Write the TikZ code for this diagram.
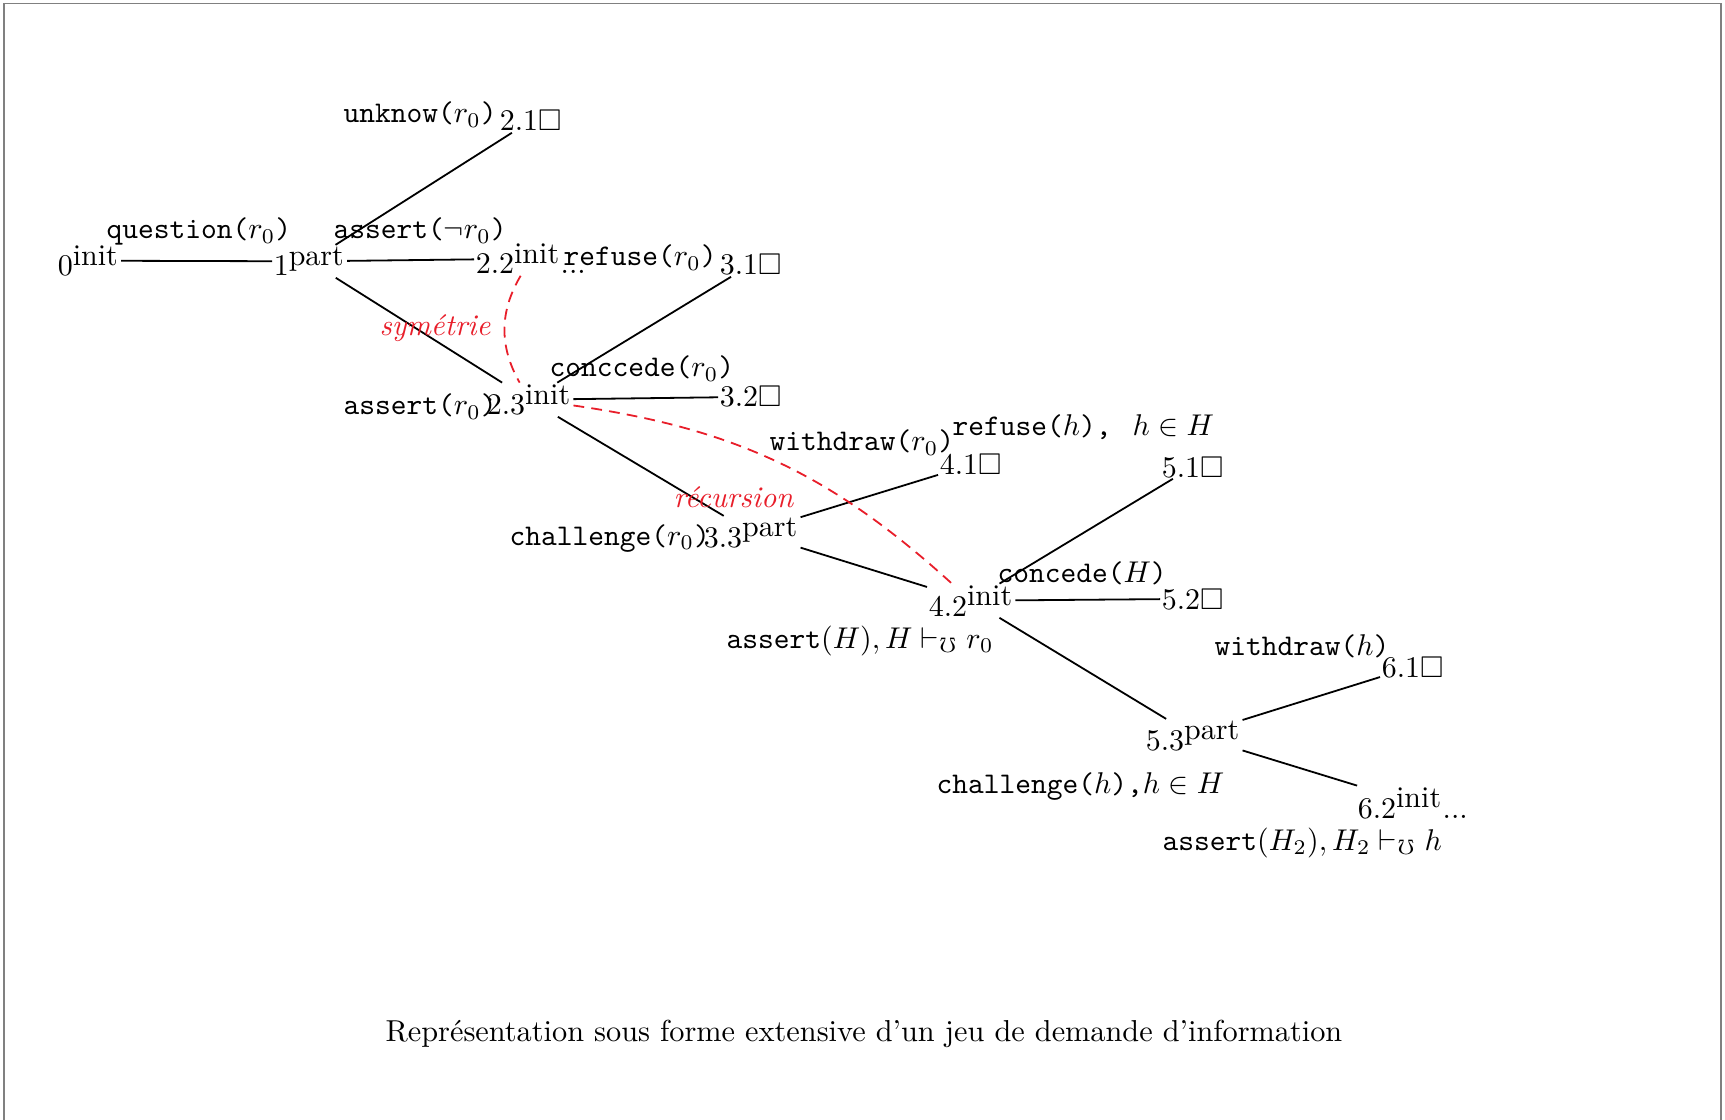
\documentclass[tikz,border=0pt]{standalone}
\usepackage{amssymb}
\definecolor{myred}{RGB}{232,30,42}
\begin{document}
\begin{tikzpicture}[x=0.33333pt,y=-0.33333pt,
  tn/.style={inner sep=0.4pt,anchor=base west},
  lb/.style={inner sep=0pt,anchor=base west},
  edge/.style={line width=0.6pt},
  rel/.style={draw=myred,dash pattern=on 3.6pt off 2.4pt,line width=0.6pt},
  rtxt/.style={inner sep=0pt,anchor=base west,text=myred,font=\itshape}]
\useasboundingbox (0,0) rectangle (1725,1120);
\draw[gray,line width=0.6pt] (4,1120) -- (4,3.5) -- (1721,3.5) -- (1721,1120);
% tree nodes
\node[tn] (n0)  at (56,276)   {$0^{\mbox{init}}$};
\node[tn] (n1)  at (272,276)  {$1^{\mbox{part}}$};
\node[tn] (n21) at (498,131)  {$2.1\square$};
\node[tn] (n22) at (474,274)  {$2.2^{\mbox{init}}$...};
\node[tn] (n23) at (485,415)  {$2.3^{\mbox{init}}$};
\node[tn] (n31) at (718,275)  {$3.1\square$};
\node[tn] (n32) at (718,407)  {$3.2\square$};
\node[tn] (n33) at (702,547)  {$3.3^{\mbox{part}}$};
\node[tn] (n41) at (938,475)  {$4.1\square$};
\node[tn] (n42) at (927,616)  {$4.2^{\mbox{init}}$};
\node[tn] (n51) at (1160,477) {$5.1\square$};
\node[tn] (n52) at (1160,609) {$5.2\square$};
\node[tn] (n53) at (1144,750) {$5.3^{\mbox{part}}$};
\node[tn] (n61) at (1380,677) {$6.1\square$};
\node[tn] (n62) at (1356,818) {$6.2^{\mbox{init}}$...};
% edges
\draw[edge] (n0) -- (n1);
\draw[edge] (n1) -- (n21);
\draw[edge] (n1) -- (n22);
\draw[edge] (n1) -- (n23);
\draw[edge] (n23) -- (n31);
\draw[edge] (n23) -- (n32);
\draw[edge] (n23) -- (n33);
\draw[edge] (n33) -- (n41);
\draw[edge] (n33) -- (n42);
\draw[edge] (n42) -- (n51);
\draw[edge] (n42) -- (n52);
\draw[edge] (n42) -- (n53);
\draw[edge] (n53) -- (n61);
\draw[edge] (n53) -- (n62);
% edge labels
\node[lb] (l01)  at (106,239)  {\texttt{question(}$r_0$\texttt{)}};
\node[lb] (l122) at (333,239)  {\texttt{assert(}$\neg r_0$\texttt{)}};
\node[lb] (l121) at (343,123)  {\texttt{unknow(}$r_0$\texttt{)}};
\node[lb] (l231) at (563,266)  {\texttt{refuse(}$r_0$\texttt{)}};
\node[lb] (l232) at (549,377)  {\texttt{conccede(}$r_0$\texttt{)}};
\node[lb] (l123) at (343,415)  {\texttt{assert(}$r_0$\texttt{)}};
\node[lb] (l233) at (509,545)  {\texttt{challenge(}$r_0$\texttt{)}};
\node[lb] (l341) at (769,451)  {\texttt{withdraw(}$r_0$\texttt{)}};
\node[lb] (l451) at (952,436)  {\texttt{refuse(}$h$\texttt{),}\hspace{7pt}$h\in H$};
\node[lb] (l342) at (726,648)  {\texttt{assert}$(H), H\vdash_{\mho} r_0$};
\node[lb] (l452) at (997,582)  {\texttt{concede(}$H$\texttt{)}};
\node[lb] (l561) at (1214,655) {\texttt{withdraw(}$h$\texttt{)}};
\node[lb] (l453) at (936,793)  {\texttt{challenge(}$h$\texttt{),}$h\in H$};
\node[lb] (l562) at (1162,850) {\texttt{assert}$(H_2), H_2\vdash_{\mho} h$};
% relations
\draw[rel] (n22) to[bend right=30] (n23);
\draw[rel] (n23) to[bend left=17] (n42);
\node[rtxt] (sym) at (379,336) {symétrie};
\node[rtxt] (rec) at (673,508) {récursion};
% caption
\node[lb] (cap) at (385,1041) {\fontsize{10.1pt}{12pt}\selectfont Représentation sous forme extensive d'un jeu de demande d'information};
\end{tikzpicture}
\end{document}
